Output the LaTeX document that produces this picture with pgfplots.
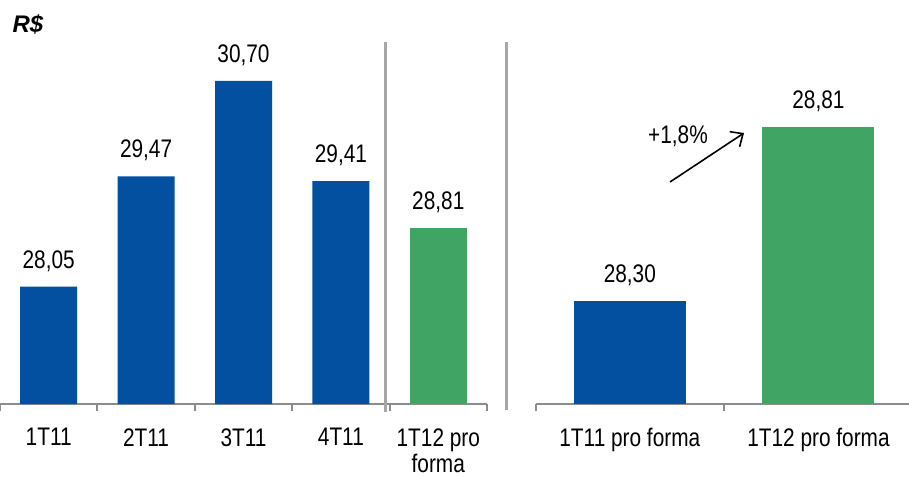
\documentclass[border=0pt]{standalone}
\usepackage{fontspec}
\setmainfont{Liberation Sans}[FakeStretch=0.82]
\newfontfamily\rsfont{Liberation Sans}
\usepackage{pgfplots}
\pgfplotsset{compat=1.18}
\usetikzlibrary{arrows.meta}
\definecolor{barblue}{RGB}{4,80,160}
\definecolor{bargreen}{RGB}{64,164,100}
\definecolor{axgray}{RGB}{140,140,140}
\definecolor{sepgray}{RGB}{166,166,166}

\pgfplotsset{
  panel/.style={
    scale only axis, anchor=south west, height=181pt,
    axis x line*=bottom, hide y axis,
    axis line style={axgray, line width=1pt},
    tick style={draw=none},
    extra x tick style={tick style={draw=axgray, line width=1pt}, tick align=outside},
    major tick length=3.5pt,
    extra x tick labels={},
    xticklabel style={anchor=north, inner sep=0pt, yshift=-12pt, align=center},
    /pgf/number format/.cd, use comma, fixed, fixed zerofill, precision=2, assume math mode=true,
    /pgfplots/.cd,
    nodes near coords,
    every node near coord/.append style={anchor=base, inner sep=0pt, yshift=9.2pt, text=black},
  }
}

\begin{document}
\begin{tikzpicture}[font=\fontsize{12.7}{15.5}\selectfont]
\begin{axis}[panel, at={(0pt,-202pt)}, width=243.5pt,
  xmin=-0.5, xmax=4.5, ymin=26.54, ymax=31.2,
  xtick={0,1,2,3,4},
  xticklabels={1T11,2T11,3T11,4T11,{1T12 pro\\[-2.5pt]forma}},
  extra x ticks={-0.5,0.5,1.5,2.5,3.5,4.5}]
\addplot[ybar, bar shift=0pt, bar width=28.5pt, fill=barblue, draw=none]
  coordinates {(0,28.05) (1,29.47) (2,30.70) (3,29.41)};
\addplot[ybar, bar shift=0pt, bar width=28.5pt, fill=bargreen, draw=none]
  coordinates {(4,28.81)};
\end{axis}
\begin{axis}[panel, at={(267.75pt,-202pt)}, width=186.75pt,
  xmin=-0.5, xmax=1.48, ymin=28, ymax=29.058,
  xtick={0,1},
  xticklabels={1T11 pro forma,1T12 pro forma},
  extra x ticks={-0.5,0.5}]
\addplot[ybar, bar shift=0pt, bar width=56pt, fill=barblue, draw=none]
  coordinates {(0,28.30)};
\addplot[ybar, bar shift=0pt, bar width=56pt, fill=bargreen, draw=none]
  coordinates {(1,28.81)};
\end{axis}
\draw[sepgray, line width=1.5pt] (192.5pt,-21pt) -- (192.5pt,-206pt);
\draw[sepgray, line width=1.5pt] (253pt,-21pt) -- (253pt,-205pt);
\draw[line width=0.8pt, -{Straight Barb[length=5pt, width=9pt]}] (335pt,-91pt) -- (372pt,-66.5pt);
\node at (339pt,-68pt) {+1,8\%};
\node[font=\rsfont\bfseries\itshape\fontsize{12}{14}\selectfont] at (14pt,-12pt) {R\$};
\pgfresetboundingbox
\path[use as bounding box] (0,0) rectangle (454.5pt,-238.5pt);
\end{tikzpicture}
\end{document}
